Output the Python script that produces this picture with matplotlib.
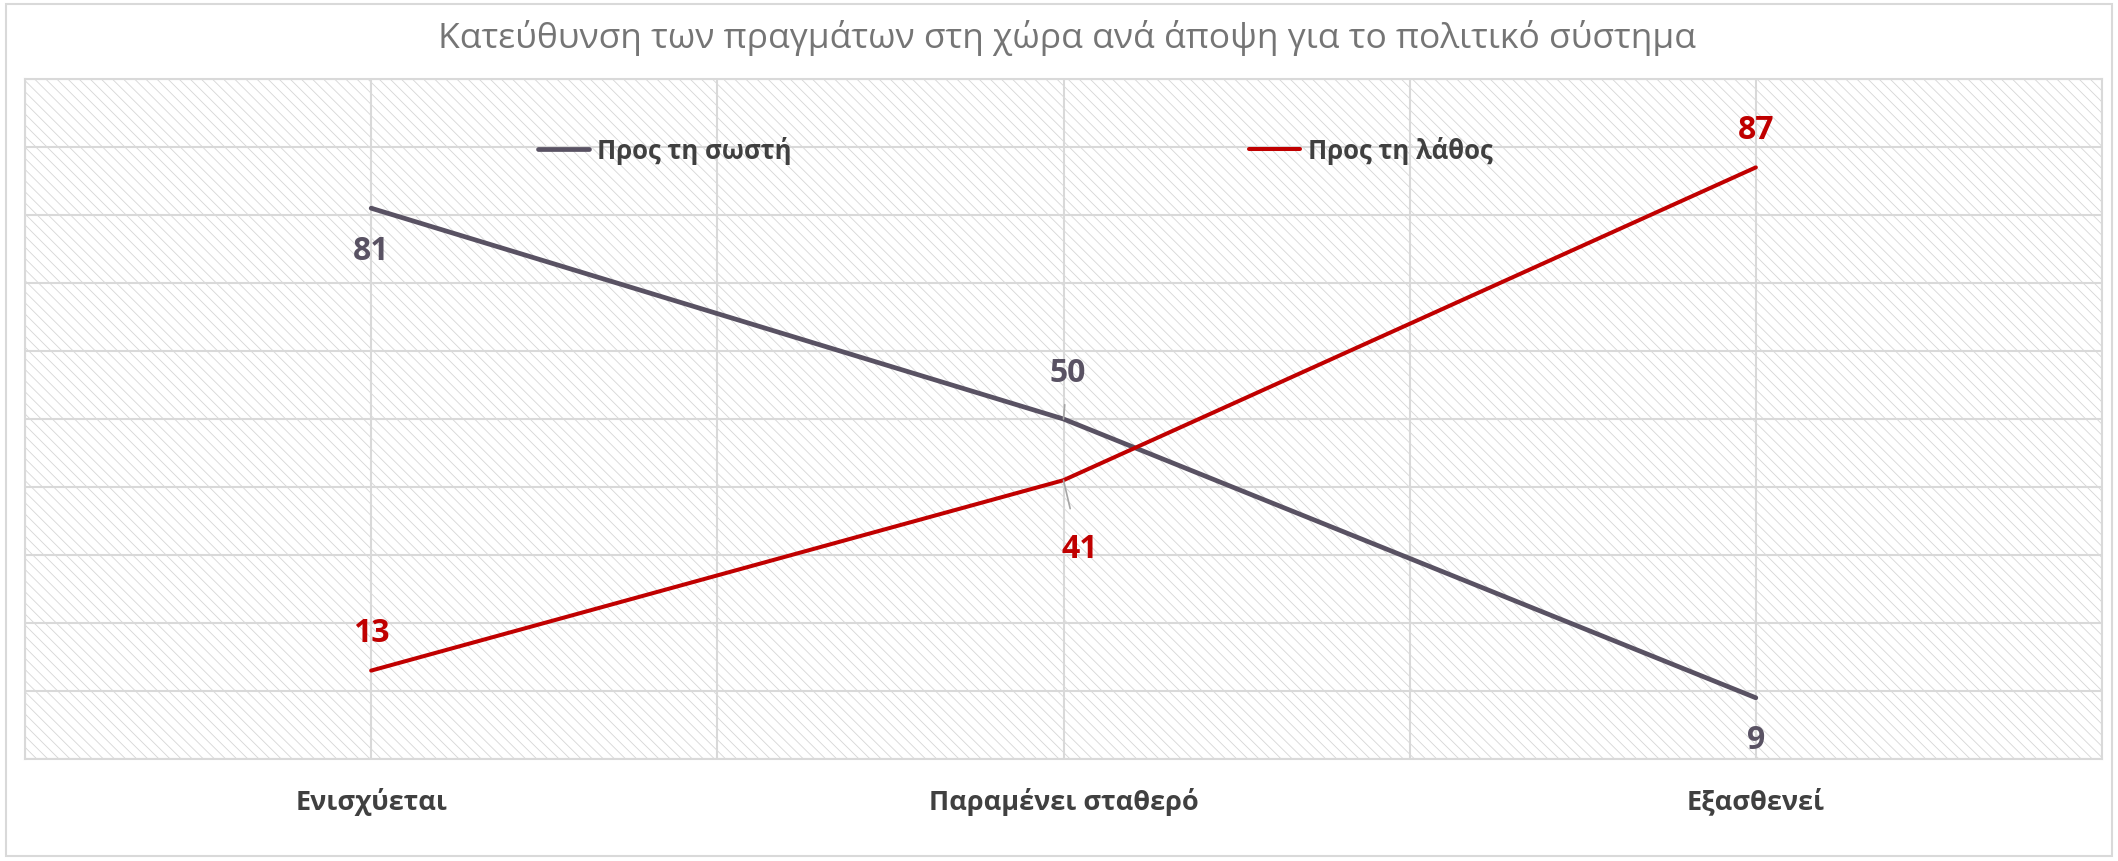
import matplotlib.pyplot as plt
from matplotlib.patches import Rectangle

# Data
categories = ["Ενισχύεται", "Παραμένει σταθερό", "Εξασθενεί"]
right_dir = [81, 50, 9]
wrong_dir = [13, 41, 87]
series_names = ["Προς τη σωστή", "Προς τη λάθος"]

gray = "#595263"
red = "#C00000"
text_dark = "#404040"
grid_col = "#d9d9d9"

plt.rcParams['font.family'] = ['Open Sans', 'DejaVu Sans']
plt.rcParams['hatch.linewidth'] = 0.6

W, H = 2118, 862
fig = plt.figure(figsize=(W / 100, H / 100), dpi=100)
ax = fig.add_axes([25 / W, 1 - 760 / H, (2102 - 25) / W, (760 - 80) / H])

# outer chart border
fig.patches.append(Rectangle((6 / W, 5 / H), (W - 12) / W, (H - 10) / H,
                             transform=fig.transFigure, fill=False,
                             edgecolor=grid_col, lw=1.5))

# hatched plot area
ax.add_patch(Rectangle((0, 0), 1, 1, transform=ax.transAxes, facecolor="white",
                       hatch="\\\\\\", edgecolor="#d6d6d6", lw=0, zorder=0))

x = list(range(len(categories)))
ax.plot(x, right_dir, color=gray, lw=3.4, label=series_names[0],
        solid_capstyle='round', zorder=3)
ax.plot(x, wrong_dir, color=red, lw=2.9, label=series_names[1],
        solid_capstyle='round', zorder=3)

ax.set_xlim(-0.5, 2.5)
ax.set_ylim(0, 100)
ax.set_yticks(range(0, 101, 10))
ax.set_xticks([-0.5, 0.5, 1.5, 2.5], minor=True)
ax.set_xticks(x)
ax.set_xticklabels(categories, fontsize=19.5, fontweight='bold', color=text_dark)
ax.tick_params(axis='x', which='both', length=0, pad=20)
ax.tick_params(axis='y', length=0, labelleft=False)
ax.grid(True, which='both', color=grid_col, lw=1.5, zorder=1)
ax.set_axisbelow(True)
for s in ax.spines.values():
    s.set_color(grid_col)
    s.set_linewidth(1.5)

# data labels (offsets in pixels)
lab_kw = dict(textcoords='offset pixels', ha='center', va='center',
              fontsize=23, fontweight='bold', zorder=4)
offsets_right = [(0, -42), (4, 46), (0, -42)]
offsets_wrong = [(0, 38), (16, -68), (0, 38)]
for i in x:
    arrow_r = arrow_w = None
    if i == 1:
        arrow_r = dict(arrowstyle='-', color='#a6a6a6', lw=1.2, shrinkA=9, shrinkB=0)
        arrow_w = dict(arrowstyle='-', color='#a6a6a6', lw=1.2, shrinkA=15, shrinkB=0)
    ax.annotate(str(right_dir[i]), (i, right_dir[i]), xytext=offsets_right[i],
                color=gray, arrowprops=arrow_r, **lab_kw)
    ax.annotate(str(wrong_dir[i]), (i, wrong_dir[i]), xytext=offsets_wrong[i],
                color=red, arrowprops=arrow_w, **lab_kw)

leg = ax.legend(loc='center', bbox_to_anchor=(1015 / W, 1 - 151 / H),
                bbox_transform=fig.transFigure, ncol=2, frameon=False,
                columnspacing=17.8, handlelength=2.0, handletextpad=0.3,
                prop=dict(size=18.5, weight='bold'))
for t in leg.get_texts():
    t.set_color(text_dark)

fig.text(1067 / W, 1 - 38 / H,
         "Κατεύθυνση των πραγμάτων στη χώρα ανά άποψη για το πολιτικό σύστημα",
         ha='center', va='center', fontsize=25.5, color="#757575")

fig.savefig("out.png", dpi=100, facecolor="white")
